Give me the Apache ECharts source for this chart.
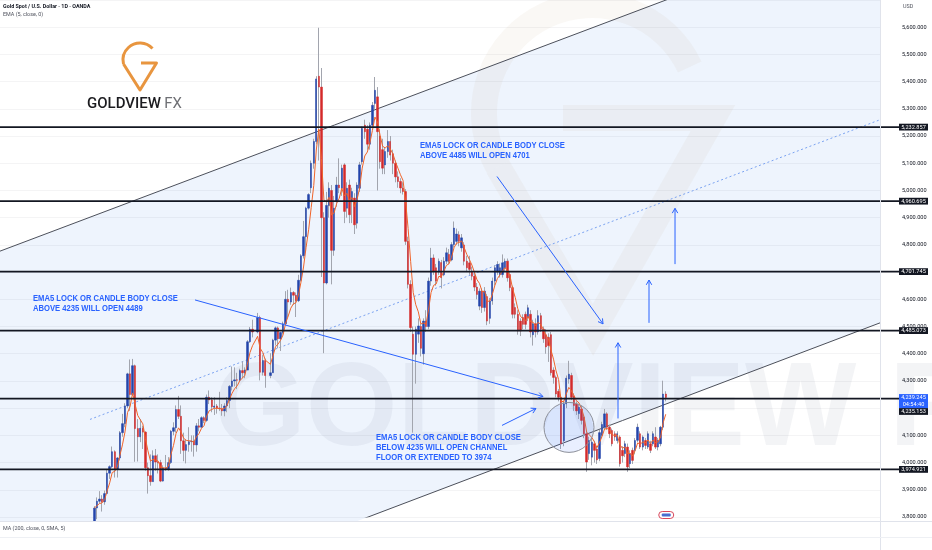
<!DOCTYPE html>
<html>
<head>
<meta charset="utf-8">
<script src="https://cdn.jsdelivr.net/npm/echarts@6/dist/echarts.min.js"></script>
<style>html,body{margin:0;padding:0;background:#fff;}#c{width:932px;height:550px;}</style>
</head>
<body>
<div id="c"></div>
<script>
// ---------------- DATA ----------------
const axisOriginDate = '2025-09-01';   // bar index 0
const firstBarDate = '2025-09-29';     // first visible daily bar
// daily candles [open, close, low, high], consecutive weekdays; null = no session
const ohlc = [
  // Sep 29 - Oct 2025
  [3770,3833,3760,3840],[3833,3858,3792,3872],[3858,3866,3850,3895],[3866,3856,3820,3880],[3856,3886,3845,3897],
  [3886,3961,3885,3975],[3961,3985,3940,3990],[3985,4040,3980,4059],[4040,3976,3945,4045],[3976,4017,3945,4020],
  [4017,4110,4008,4116],[4110,4143,4095,4179],[4143,4208,4130,4218],[4208,4326,4200,4330],[4326,4250,4190,4379],
  [4250,4356,4245,4381],[4356,4125,4003,4360],[4125,4095,4004,4160],[4095,4126,4075,4160],[4126,4112,4050,4135],
  [4112,3981,3970,4115],[3981,3952,3886,4000],[3952,3930,3915,4030],[3930,4025,3930,4045],[4025,4002,3970,4050],
  // Nov 2025
  [4002,4000,3960,4030],[4000,3932,3928,4010],[3932,3980,3930,3990],[3980,3977,3970,4028],[3977,4000,3970,4020],
  [4000,4115,3995,4120],[4115,4128,4100,4148],[4128,4195,4110,4210],[4195,4170,4160,4245],[4170,4080,4032,4210],
  [4080,4045,4005,4110],[4045,4066,3997,4085],[4066,4077,4040,4130],[4077,4078,4040,4100],[4078,4065,4022,4100],
  [4065,4135,4040,4145],[4135,4130,4115,4160],[4130,4165,4128,4170],[4165,4155,4145,4170],[4155,4240,4150,4250],
  // Dec 2025
  [4240,4230,4215,4265],[4230,4205,4185,4240],[4203,4208,4175,4240],[4208,4200,4180,4215],[4200,4198,4190,4260],
  [4198,4190,4172,4215],[4190,4208,4170,4218],[4208,4228,4185,4240],[4228,4280,4200,4285],[4280,4300,4265,4353],
  [4300,4304,4280,4350],[4304,4303,4270,4330],[4303,4338,4300,4345],[4338,4330,4310,4372],[4330,4340,4310,4350],
  [4340,4444,4340,4450],[4444,4490,4440,4498],[4490,4480,4460,4525],null,[4480,4533,4475,4550],
  [4533,4332,4302,4540],[4332,4375,4320,4395],[4375,4320,4275,4382],
  // Jan 2026
  null,[4320,4330,4310,4402],
  [4330,4450,4330,4455],[4450,4495,4430,4500],[4495,4455,4420,4500],[4455,4478,4410,4480],[4478,4510,4470,4518],
  [4510,4600,4510,4630],[4600,4590,4535,4635],[4590,4625,4580,4643],[4625,4615,4580,4630],[4615,4595,4535,4625],
  [4595,4670,4590,4690],[4670,4760,4665,4766],[4760,4830,4750,4888],[4830,4935,4775,4940],[4935,4985,4930,4990],
  [5010,5100,4990,5110],[5100,5180,5080,5190],[5180,5410,5170,5420],[5420,5380,5110,5598],[5380,4900,4682,5450],
  // Feb 2026
  [4900,4660,4402,4920],[4660,4945,4655,4995],[4945,5008,4900,5030],[5000,4780,4655,5020],[4780,4935,4760,4980],
  [4960,5020,4940,5050],[5020,5010,4990,5118],[5008,5082,4980,5095],[5094,4923,4880,5100],[4935,5008,4900,5030],
  [5020,4911,4880,5040],[4960,4996,4880,5010],[4972,4874,4840,4990],[4880,5020,4860,5030],[5008,5094,4995,5105],
  [5106,5228,5095,5235],[5240,5216,5190,5260],[5225,5170,5150,5240],[5170,5240,5150,5250],[5240,5313,5230,5325],
  // Mar 2026
  [5320,5368,5300,5417],[5344,5216,5000,5380],[5200,5106,5080,5225],[5150,5082,5060,5190],[5094,5143,5060,5160],
  [5143,5180,5120,5222],[5180,5130,5110,5200],[5135,5100,5060,5150],[5100,5050,5030,5110],[5050,5033,5010,5070],
  [5033,5009,4990,5045],[5009,4996,4985,5030],[4996,4813,4800,5005],[4813,4655,4640,4830],[4655,4496,4480,4670],
  [4472,4398,4110,4500],[4398,4490,4290,4500],[4472,4502,4440,4530],[4500,4420,4390,4510],[4400,4520,4360,4530],
  [4520,4500,4480,4560],[4500,4667,4490,4680],
  // Apr 2026
  [4667,4752,4650,4789],[4752,4704,4690,4765],[4716,4667,4650,4730],
  [4700,4740,4690,4750],[4735,4680,4640,4745],[4690,4740,4685,4755],[4740,4771,4730,4790],[4765,4740,4730,4785],
  [4745,4801,4740,4810],[4801,4862,4790,4886],[4813,4840,4800,4860],[4837,4813,4795,4850],[4789,4826,4775,4840],
  [4800,4740,4725,4810],[4740,4716,4700,4760],[4734,4710,4690,4760],[4703,4685,4670,4720],[4685,4645,4630,4700],
  [4645,4618,4600,4660],[4575,4630,4560,4640],[4630,4570,4550,4640],[4570,4630,4555,4645],
  // May 2026
  [4610,4520,4505,4620],
  [4530,4594,4510,4605],[4594,4667,4580,4680],[4667,4716,4650,4725],[4700,4728,4690,4740],[4691,4716,4680,4730],
  [4691,4734,4680,4765],[4716,4740,4700,4750],[4740,4679,4665,4750],[4691,4643,4630,4700],[4643,4545,4530,4650],
  [4570,4545,4530,4585],[4545,4484,4470,4560],[4520,4484,4465,4530],[4533,4508,4490,4545],[4545,4508,4490,4555],
  [4533,4569,4520,4580],[4545,4480,4460,4560],[4470,4510,4430,4525],[4510,4480,4460,4530],[4480,4540,4470,4560],
  // Jun 2026
  [4540,4490,4480,4550],[4490,4455,4440,4500],[4470,4425,4400,4490],[4460,4430,4370,4475],[4470,4330,4320,4480],
  [4340,4313,4290,4350],[4313,4252,4240,4320],[4262,4240,4225,4270],[4240,4069,4050,4250],[4080,4216,4060,4228],
  [4216,4310,4200,4320],[4307,4325,4290,4374],[4320,4240,4230,4330],[4245,4210,4190,4255],[4215,4190,4175,4225],
  [4180,4203,4160,4215],[4197,4155,4140,4210],[4167,4106,4090,4175],[4106,4002,3966,4115],[4033,4081,4010,4095],
  [4020,4075,3990,4090],[4069,4045,4000,4080],
  // Jul 2026
  [4050,4010,3995,4060],[4015,4110,4005,4120],[4100,4140,4090,4150],
  [4130,4179,4120,4197],[4179,4130,4120,4185],[4130,4106,4090,4140],[4118,4069,4060,4125],[4106,4094,4080,4115],
  [4081,4106,4070,4115],[4094,3996,3985,4100],[4045,4025,4000,4060],[4033,4069,4020,4080],[4057,3984,3966,4070],
  [3996,4033,3980,4045],[4045,4008,3995,4055],[4045,4081,4030,4090],[4082,4130,4075,4143],[4106,4057,4050,4115],
  [4057,4094,4045,4100],[4081,4063,4050,4090],[4057,4106,4050,4115],[4069,4045,4035,4080],[4069,4106,4060,4115],
  // Aug 2026
  [4094,4057,4050,4130],[4057,4081,4045,4090],[4069,4130,4060,4135],[4130,4252,4120,4301],[4252,4239.245,4225,4262]
];
const emaPeriod = 5;
const levels = [5232.857, 4960.695, 4701.745, 4485.073, 4235.153, 3974.921];
const lastPrice = 4239.245;
const countdown = '04:54:40';
const monthLabels = ['Sep','Oct','Nov','Dec','2026','Feb','Mar','Apr','May','Jun','Jul','Aug','Sep','Oct','Nov','Dec'];
const monthDates = ['2025-09-01','2025-10-01','2025-11-01','2025-12-01','2026-01-01','2026-02-01','2026-03-01','2026-04-01',
                    '2026-05-01','2026-06-01','2026-07-01','2026-08-01','2026-09-01','2026-10-01','2026-11-01','2026-12-01'];
// drawing anchors in [barIndex, price]
const upperChannel = [[-17, 4777.0], [241.75, 5691.7]];
const lowerChannel = [[122.18, 3781.7], [328, 4513.5]];
const midChannel   = [[18.28, 4158.6], [328, 5259.9]];
const arrowDrawings = [
  [[59.45,4597.7],[195.88,4242.7]],
  [[177.85,5051.4],[219.41,4509.8]],
  [[179.81,4136.6],[193.14,4198.8]],
  [[225.29,4162.2],[225.29,4440.3]],
  [[237.44,4513.5],[237.44,4670.8]],
  [[247.64,4729.4],[247.64,4934.3]]
];
const noteDrawings = [
  {at:[147.66,5164.8], text:'EMA5 LOCK OR CANDLE BODY CLOSE\nABOVE 4485 WILL OPEN 4701'},
  {at:[-4.06,4605.0],  text:'EMA5 LOCK OR CANDLE BODY CLOSE\nABOVE 4235 WILL OPEN 4489'},
  {at:[130.41,4092.7], text:'EMA5 LOCK OR CANDLE BODY CLOSE\nBELOW 4235 WILL OPEN CHANNEL\nFLOOR OR EXTENDED TO 3974'}
];
const circleDrawing = {at:[206.08,4129.3]};
// ---------------- VIEW ----------------
const xMin = -17, xMax = 328;

function parseD(s){const a=s.split('-').map(Number);return Date.UTC(a[0],a[1]-1,a[2]);}
function weekdayIndex(s){
  const o=parseD(axisOriginDate), t=parseD(s); let n=0;
  for(let ms=o; ms<t; ms+=86400000){const w=new Date(ms).getUTCDay(); if(w!==0&&w!==6)n++;}
  return n;
}
const firstIdx = weekdayIndex(firstBarDate);
const monthIdx = monthDates.map(weekdayIndex);

const rows=[];
ohlc.forEach((r,k)=>{ if(r) rows.push([firstIdx+k, r[0], r[1], r[2], r[3]]); });
const bodies = rows.map(r=>[r[0], r[1], r[2], Math.min(r[1],r[2]), Math.max(r[1],r[2])]);
const ema=[]; (function(){let e=null; const a=2/(emaPeriod+1); rows.forEach(r=>{e=(e===null)?r[2]:a*r[2]+(1-a)*e; ema.push([r[0],e]);});})();

function lineAt(l, x){const [a,b]=l; return a[1]+(b[1]-a[1])*(x-a[0])/(b[0]-a[0]);}
function extend(l, x0, x1){return [[x0,lineAt(l,x0)],[x1,lineAt(l,x1)]];}
const fmt = v => v.toLocaleString('en-US',{minimumFractionDigits:3, maximumFractionDigits:3});

const FONT = 'Roboto, "Liberation Sans", sans-serif';
const chart = echarts.init(document.getElementById('c'), null, {renderer:'canvas'});
const option = {
  animation:false,
  backgroundColor:'#ffffff',
  grid:{left:0, right:52, top:-2.3, bottom:33},
  xAxis:{type:'value', min:xMin, max:xMax,
    axisLine:{show:false}, axisTick:{show:false}, splitLine:{show:false},
    axisLabel:{customValues:monthIdx, margin:24, fontSize:6, color:'#131722', fontFamily:FONT,
      formatter:v=>{const s=monthLabels[monthIdx.indexOf(v)]; return s==='2026'?'{b|2026}':s;},
      rich:{b:{fontWeight:'bold', fontSize:6, color:'#131722', fontFamily:FONT}}}
  },
  yAxis:{type:'value', position:'right', min:3800, max:5700, interval:100, z:1,
    axisLine:{show:false}, axisTick:{show:false},
    splitLine:{show:true, lineStyle:{color:'rgba(42,46,57,0.05)', width:1}},
    axisLabel:{showMaxLabel:false, formatter:fmt, fontSize:5.6, color:'#131722', margin:22, fontFamily:FONT}
  },
  series:[
    {type:'custom', name:'channel', z:0, silent:true, clip:false, data:[[0,4500]],
      renderItem:(params, api)=>{
        const x0=xMin-5, x1=xMax+5;
        const pts=[api.coord([x0,lineAt(upperChannel,x0)]), api.coord([x1,lineAt(upperChannel,x1)]),
                   api.coord([x1,lineAt(lowerChannel,x1)]), api.coord([x0,lineAt(lowerChannel,x0)])];
        const cs=params.coordSys;
        return {type:'polygon', shape:{points:pts}, style:{fill:'#eef4fd'},
                clipPath:{type:'rect', shape:{x:cs.x, y:cs.y, width:cs.width, height:cs.height+4}}};
      }},
    {type:'line', name:'upper', z:3, silent:true, symbol:'none', data:extend(upperChannel,xMin,xMax+5),
      lineStyle:{color:'#4b4f5a', width:1}},
    {type:'line', name:'lower', z:3, silent:true, symbol:'none', data:extend(lowerChannel,lowerChannel[0][0]-3,xMax+5),
      lineStyle:{color:'#4b4f5a', width:1}},
    {type:'line', name:'mid', z:3, silent:true, symbol:'none', data:extend(midChannel,midChannel[0][0],xMax+5),
      lineStyle:{color:'#7aa2f0', width:1, type:[2,2.5]}},
    {type:'candlestick', name:'wicks', z:4, silent:true, data:rows,
      dimensions:['i','open','close','lowest','highest'], encode:{x:0, y:[1,2,3,4]},
      barWidth:0.8, itemStyle:{color:'#a2a5ae', color0:'#a2a5ae', borderColor:'#a2a5ae', borderColor0:'#a2a5ae', borderColorDoji:'#a2a5ae', borderWidth:1}},
    {type:'candlestick', name:'bodies', z:5, silent:true, data:bodies,
      dimensions:['i','open','close','lowest','highest'], encode:{x:0, y:[1,2,3,4]},
      barWidth:1.9, itemStyle:{color:'#2344aa', color0:'#d42a2a', borderColor:'#2344aa', borderColor0:'#d42a2a', borderColorDoji:'#2344aa', borderWidth:0.5}},
    {type:'line', name:'EMA', z:6, silent:true, symbol:'none', data:ema,
      lineStyle:{color:'#f0642a', width:1}}
  ]
};
chart.setOption(option);

// ---------------- DRAWINGS / LABELS ----------------
const P=(i,p)=>chart.convertToPixel({gridIndex:0},[i,p]);
const G=[];
const BLUE='#2962ff';
// watermark
G.push({type:'text', z:1, silent:true, style:{x:214, y:471, text:'GOLDVIEW FX', fontSize:118, fontWeight:'bold',
  fontFamily:'"Liberation Sans", sans-serif', fill:'rgba(100,110,130,0.075)', verticalAlign:'bottom'}});
const WM='rgba(190,165,120,0.075)';
G.push({type:'arc', z:1, silent:true, shape:{cx:592, cy:113, r:108, startAngle:-0.44, endAngle:2.62, clockwise:false},
  style:{fill:'none', stroke:WM, lineWidth:26}});
G.push({type:'polyline', z:1, silent:true, shape:{points:[[498,167],[593,330],[713,118],[563,118]]},
  style:{fill:null, stroke:WM, lineWidth:26, lineJoin:'miter'}});
// level lines
levels.forEach(v=>{const y=P(0,v)[1]; G.push({type:'line', z:8, silent:true, shape:{x1:0,y1:y,x2:899,y2:y}, style:{stroke:'#131722', lineWidth:1.7}});});
// arrows
function arrow(a,b){
  const p0=P(a[0],a[1]), p1=P(b[0],b[1]);
  const th=Math.atan2(p1[1]-p0[1], p1[0]-p0[0]), L=5.5, d=Math.PI*5/6;
  G.push({type:'line', z:9, silent:true, shape:{x1:p0[0],y1:p0[1],x2:p1[0],y2:p1[1]}, style:{stroke:BLUE, lineWidth:1}});
  G.push({type:'polyline', z:9, silent:true, shape:{points:[[p1[0]+L*Math.cos(th+d), p1[1]+L*Math.sin(th+d)], [p1[0],p1[1]], [p1[0]+L*Math.cos(th-d), p1[1]+L*Math.sin(th-d)]]},
    style:{stroke:BLUE, lineWidth:1, fill:null}});
}
arrowDrawings.forEach(a=>arrow(a[0],a[1]));
// notes (narrowed to match the condensed drawing font)
noteDrawings.forEach(n=>{const p=P(n.at[0],n.at[1]);
  G.push({type:'text', z:10, silent:true, x:p[0], y:p[1]-5, scaleX:0.82,
    style:{x:0, y:0, text:n.text, fontSize:9.3, fontWeight:'bold', lineHeight:10,
    fontFamily:'"Liberation Sans", sans-serif', fill:BLUE, verticalAlign:'top', align:'left'}});});
// circle
(function(){const p=P(circleDrawing.at[0],circleDrawing.at[1]);
  G.push({type:'circle', z:9, silent:true, shape:{cx:p[0], cy:p[1], r:25}, style:{fill:'rgba(41,98,255,0.10)', stroke:'#8d9099', lineWidth:1}});})();
// pane separators
G.push({type:'line', z:11, silent:true, shape:{x1:880.5,y1:0,x2:880.5,y2:550}, style:{stroke:'#e0e3eb', lineWidth:1}});
G.push({type:'rect', z:7, silent:true, shape:{x:0,y:521,width:932,height:29}, style:{fill:'#ffffff'}});
G.push({type:'line', z:11, silent:true, shape:{x1:0,y1:521.5,x2:932,y2:521.5}, style:{stroke:'#e0e3eb', lineWidth:1}});
G.push({type:'line', z:11, silent:true, shape:{x1:0,y1:537.5,x2:932,y2:537.5}, style:{stroke:'#eef0f4', lineWidth:1}});
// price tags
function tag(yc, text, bg, h){
  G.push({type:'rect', z:12, silent:true, shape:{x:899, y:yc-3.4, width:29, height:h||6.8}, style:{fill:bg}});
  G.push({type:'text', z:13, silent:true, style:{x:913.5, y:yc-3.4+0.4, text:text, fontSize:5.6, lineHeight:6.6, fill:'#ffffff', align:'center', verticalAlign:'top', fontFamily:FONT}});
}
const yLast=P(0,lastPrice)[1];
const blueBottom=yLast-3.4+14;
levels.forEach(v=>{let y=P(0,v)[1]; if(Math.abs(y-yLast)<14){ y=Math.max(y, blueBottom+3.4); } tag(y, fmt(v), '#131722');});
tag(yLast, fmt(lastPrice)+'\n'+countdown, BLUE, 14);
// header & misc text
G.push({type:'text', z:12, silent:true, style:{x:3, y:4.5, text:'Gold Spot / U.S. Dollar · 1D · OANDA', fontSize:5.4, fontWeight:'bold', fill:'#131722', fontFamily:FONT}});
G.push({type:'text', z:12, silent:true, style:{x:3, y:12.5, text:'EMA (5, close, 0)', fontSize:5.4, fill:'#50535e', fontFamily:FONT}});
G.push({type:'text', z:12, silent:true, style:{x:903, y:4.5, text:'USD', fontSize:5.4, fill:'#50535e', fontFamily:FONT}});
G.push({type:'text', z:12, silent:true, style:{x:3, y:526.5, text:'MA (200, close, 0, SMA, 5)', fontSize:5.4, fill:'#50535e', fontFamily:FONT}});
// logo
const LOGO='#e8953f';
G.push({type:'arc', z:12, silent:true, shape:{cx:140, cy:60, r:17, startAngle:-0.745, endAngle:2.904, clockwise:false},
  style:{fill:'none', stroke:LOGO, lineWidth:3}});
G.push({type:'polyline', z:12, silent:true, shape:{points:[[123.5,64],[140,90],[156.5,63],[141,63]]},
  style:{fill:null, stroke:LOGO, lineWidth:3, lineJoin:'round'}});
G.push({type:'text', z:12, silent:true, style:{x:87, y:112, text:'{a|GOLDVIEW} {b|FX}', verticalAlign:'bottom',
  rich:{a:{fontSize:15, fontWeight:500, fill:'#1b1b1f', fontFamily:FONT}, b:{fontSize:15, fontWeight:400, fill:'#6f7075', fontFamily:FONT}}}});
// event icon
(function(){const x=P(244,3800)[0];
  G.push({type:'rect', z:12, silent:true, shape:{x:x-7,y:511.5,width:15,height:7,r:3.5}, style:{fill:'#ffffff', stroke:'#d9485c', lineWidth:1}});
  G.push({type:'rect', z:12, silent:true, shape:{x:x-4,y:513.5,width:9,height:3,r:1}, style:{fill:'#4a6fd0'}});})();

chart.setOption({graphic:{elements:G}});
</script>
</body>
</html>
